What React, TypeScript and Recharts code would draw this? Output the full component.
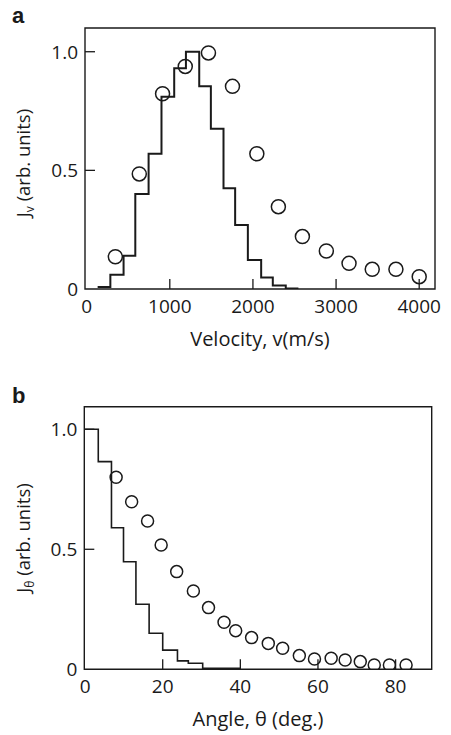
import React from "react";
import { ComposedChart, Line, Scatter, XAxis, YAxis, ReferenceArea } from "recharts";

// panel a: velocity distribution
const velEdges = [132, 285, 444, 585, 745, 900, 1053, 1194, 1354, 1494, 1646, 1786, 1939, 2099, 2239, 2395, 2547];
const velHist = [0.008, 0.06, 0.14, 0.4, 0.57, 0.81, 0.93, 1.0, 0.855, 0.675, 0.425, 0.27, 0.122, 0.048, 0.015, 0.002];
const velPtsX = [345, 633, 913, 1186, 1465, 1754, 2047, 2306, 2595, 2883, 3156, 3435, 3720, 4000];
const velPtsY = [0.136, 0.485, 0.823, 0.938, 0.995, 0.854, 0.57, 0.347, 0.221, 0.16, 0.108, 0.083, 0.083, 0.052];
const velTicks = [0, 1000, 2000, 3000, 4000];

// panel b: angular distribution
const angEdges = [0, 3.4, 6.8, 9.9, 13.1, 16.5, 20, 23.8, 26.6, 30.3, 40];
const angHist = [1.0, 0.865, 0.59, 0.448, 0.271, 0.15, 0.08, 0.035, 0.025, 0.004];
const angPtsX = [8, 12, 16.1, 19.6, 23.6, 27.9, 31.8, 35.8, 38.8, 42.9, 47.2, 50.9, 55.2, 59.1, 63.4, 67.0, 70.9, 74.5, 78.4, 82.7];
const angPtsY = [0.8, 0.698, 0.618, 0.518, 0.407, 0.326, 0.257, 0.196, 0.161, 0.132, 0.108, 0.0875, 0.057, 0.043, 0.046, 0.039, 0.032, 0.018, 0.018, 0.018];
const angTicks = [0, 20, 40, 60, 80];

const yTicks = [0, 0.5, 1.0];

const FONT = "'Open Sans', sans-serif";
const INK = "#1a1a1a";
const X_MARGIN = 17;
const Y_MARGIN = 7;
const TICK_LEN = 10;

const steps = (edges: number[], vals: number[]) =>
  edges.map((e, i) => ({ x: e, y: i < vals.length ? vals[i] : vals[vals.length - 1] }));
const points = (xs: number[], ys: number[]) => xs.map((x, i) => ({ x, y: ys[i] }));

function XTick(props: any) {
  const { x, y, payload } = props;
  const axisY = y - X_MARGIN;
  return (
    <g>
      {payload.value !== 0 && (
        <line x1={x} x2={x} y1={axisY} y2={axisY - TICK_LEN} stroke={INK} strokeWidth={1.3} />
      )}
      <text x={x} y={y} textAnchor="middle" dominantBaseline="central" fontFamily={FONT} fontSize={19} fill={INK}>
        {payload.value}
      </text>
    </g>
  );
}

function YTick(props: any) {
  const { x, y, payload } = props;
  const axisX = x + Y_MARGIN;
  const v = payload.value;
  return (
    <g>
      {v !== 0 && <line x1={axisX} x2={axisX + TICK_LEN} y1={y} y2={y} stroke={INK} strokeWidth={1.3} />}
      <text x={x} y={y} textAnchor="end" dominantBaseline="central" fontFamily={FONT} fontSize={19} fill={INK}>
        {v === 0 ? "0" : v.toFixed(1)}
      </text>
    </g>
  );
}

function Ring(r: number) {
  return (p: any) => <circle cx={p.cx} cy={p.cy} r={r} fill="none" stroke={INK} strokeWidth={1.5} />;
}

function Panel(props: {
  height: number;
  margin: { top: number; right: number; bottom: number; left: number };
  xDomain: [number, number];
  yMax: number;
  xTicks: number[];
  hist: { x: number; y: number }[];
  pts: { x: number; y: number }[];
  r: number;
  lineW: number;
}) {
  const { height, margin, xDomain, yMax, xTicks, hist, pts, r, lineW } = props;
  return (
    <ComposedChart width={451} height={height} margin={margin}>
      <XAxis
        type="number"
        dataKey="x"
        domain={xDomain}
        ticks={xTicks}
        allowDataOverflow
        axisLine={false}
        tickLine={false}
        tickSize={0}
        tickMargin={X_MARGIN}
        height={1}
        tick={(p: any) => <XTick {...p} />}
        interval={0}
      />
      <YAxis
        type="number"
        domain={[0, yMax]}
        ticks={yTicks}
        allowDataOverflow
        axisLine={false}
        tickLine={false}
        tickSize={0}
        tickMargin={Y_MARGIN}
        width={1}
        tick={(p: any) => <YTick {...p} />}
        interval={0}
      />
      <ReferenceArea
        x1={xDomain[0]}
        x2={xDomain[1]}
        y1={0}
        y2={yMax}
        fill="none"
        fillOpacity={0}
        stroke={INK}
        strokeWidth={1.4}
      />
      <Line
        data={hist}
        dataKey="y"
        type="stepAfter"
        stroke={INK}
        strokeWidth={lineW}
        dot={false}
        isAnimationActive={false}
      />
      <Scatter data={pts} dataKey="y" shape={Ring(r)} isAnimationActive={false} />
    </ComposedChart>
  );
}

export default function App() {
  return (
    <div style={{ position: "absolute", left: 0, top: 0, width: 451, height: 735, background: "#fff" }}>
      <div style={{ position: "absolute", left: 0, top: 0 }}>
        <Panel
          height={360}
          margin={{ top: 28, right: 16, bottom: 70, left: 84 }}
          xDomain={[-20, 4190]}
          yMax={1.1}
          xTicks={velTicks}
          hist={steps(velEdges, velHist)}
          pts={points(velPtsX, velPtsY)}
          r={7}
          lineW={2}
        />
      </div>
      <div style={{ position: "absolute", left: 0, top: 370 }}>
        <Panel
          height={365}
          margin={{ top: 36.7, right: 19.3, bottom: 64.7, left: 83.3 }}
          xDomain={[-0.2, 89.3]}
          yMax={1.094}
          xTicks={angTicks}
          hist={steps(angEdges, angHist)}
          pts={points(angPtsX, angPtsY)}
          r={6}
          lineW={1.6}
        />
      </div>
      <svg
        width={451}
        height={735}
        style={{ position: "absolute", left: 0, top: 0, pointerEvents: "none" }}
        fontFamily={FONT}
        fill={INK}
      >
        <text x={12} y={23} fontFamily="'Liberation Sans', Arial, sans-serif" fontWeight="bold" fontSize={22}>
          a
        </text>
        <text x={12} y={403} fontFamily="'Liberation Sans', Arial, sans-serif" fontWeight="bold" fontSize={22}>
          b
        </text>
        <text x={260} y={346} textAnchor="middle" fontSize={20}>
          Velocity, v(m/s)
        </text>
        <text x={258} y={726} textAnchor="middle" fontSize={20}>
          Angle, θ (deg.)
        </text>
        <text transform="translate(30,163) rotate(-90)" textAnchor="middle" fontSize={18.5}>
          J<tspan fontSize={12} dy={4}>v</tspan>
          <tspan dy={-4}> (arb. units)</tspan>
        </text>
        <text transform="translate(30,538) rotate(-90)" textAnchor="middle" fontSize={18.5}>
          J<tspan fontSize={12} dy={4}>θ</tspan>
          <tspan dy={-4}> (arb. units)</tspan>
        </text>
      </svg>
    </div>
  );
}
